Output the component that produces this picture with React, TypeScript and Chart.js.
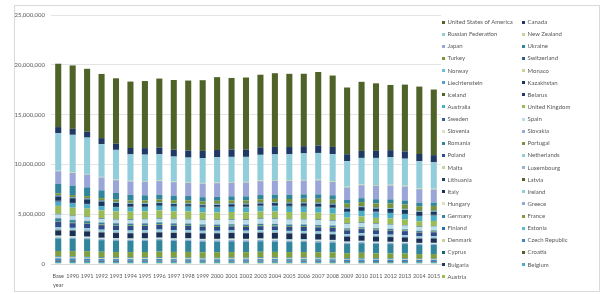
import React, { useEffect, useRef } from "react";
import { Chart, registerables } from "chart.js";

Chart.register(...registerables);

// Categories (Base year, 1990 ... 2015)
const categories: (string | string[])[] = [
  ["Base", "year"], "1990", "1991", "1992", "1993", "1994", "1995", "1996", "1997", "1998", "1999",
  "2000", "2001", "2002", "2003", "2004", "2005", "2006", "2007", "2008", "2009", "2010",
  "2011", "2012", "2013", "2014", "2015",
];

// Values in Mt CO2 eq (shown in kt on the axis)
const austria = [79, 79, 82, 75, 75, 76, 79, 82, 82, 81, 80, 80, 84, 86, 92, 91, 93, 90, 87, 87, 80, 85, 82, 80, 80, 76, 79];
const belgium = [146, 146, 150, 148, 146, 152, 153, 157, 150, 154, 147, 149, 148, 145, 148, 148, 143, 139, 133, 137, 124, 131, 121, 119, 119, 114, 117];
const bulgaria = [113, 104, 83, 76, 74, 70, 74, 72, 67, 63, 57, 58, 61, 59, 63, 62, 63, 63, 66, 64, 56, 59, 64, 60, 55, 58, 61];
const croatia = [31.3, 31.3, 25.8, 23.3, 23.3, 22.5, 22.9, 22.9, 24.0, 25.0, 25.7, 25.7, 26.7, 27.9, 29.3, 29.0, 29.7, 30.0, 31.2, 30.2, 28.5, 27.9, 27.9, 26.1, 24.7, 24.0, 24.5];
const cyprus = [5.7, 5.7, 6.2, 6.6, 6.8, 7.1, 7.3, 7.5, 7.6, 8.0, 8.4, 8.8, 8.8, 9.2, 9.6, 9.7, 9.7, 9.9, 10.3, 10.5, 10.1, 9.8, 9.5, 9.0, 8.0, 8.5, 8.5];
const czechRepublic = [197, 197, 181, 170, 164, 155, 155, 158, 155, 148, 139, 148, 150, 146, 148, 149, 147, 149, 149, 143, 134, 137, 134, 130, 125, 124, 125];
const denmark = [70, 70, 80, 75, 77, 80, 77, 90, 81, 77, 74, 70, 71, 70, 75, 69, 65, 72, 67, 64, 61, 63, 57, 52, 55, 51, 49];
const estonia = [40.4, 40.4, 38.5, 28.0, 22.0, 22.3, 20.0, 20.6, 20.3, 18.6, 17.3, 16.8, 17.2, 17.2, 19.2, 19.1, 18.4, 17.4, 21.2, 19.5, 15.8, 20.4, 20.6, 19.3, 21.8, 20.8, 18.0];
const finland = [71, 71, 69, 67, 69, 73, 71, 76, 73, 71, 71, 70, 75, 77, 85, 81, 70, 80, 79, 71, 67, 76, 68, 62, 63, 59, 56];
const france = [552, 550, 575, 561, 541, 538, 545, 557, 553, 569, 559, 556, 555, 552, 557, 557, 558, 548, 539, 532, 510, 516, 490, 494, 493, 461, 463];
const germany = [1262, 1251, 1205, 1161, 1153, 1130, 1124, 1148, 1109, 1103, 1073, 1067, 1078, 1060, 1057, 1041, 1004, 1012, 980, 992, 917, 960, 932, 945, 955, 905, 908];
const greece = [105, 105, 105, 106, 107, 110, 110, 114, 118, 124, 124, 127, 128, 128, 132, 131, 134, 129, 132, 128, 121, 117, 115, 110, 104, 101, 96];
const hungary = [115, 94, 86, 79, 78, 77, 77, 79, 77, 77, 77, 76, 77, 75, 78, 77, 77, 76, 75, 73, 66, 65, 64, 61, 57, 58, 61];
const ireland = [56, 56, 57, 57, 57, 58, 59, 61, 63, 65, 67, 69, 71, 69, 69, 69, 70, 70, 69, 67, 62, 61, 58, 59, 59, 59, 60];
const italy = [520, 520, 522, 520, 515, 510, 531, 525, 533, 546, 553, 556, 560, 563, 579, 582, 582, 574, 566, 551, 495, 507, 495, 474, 443, 422, 433];
const latvia = [26.2, 26.2, 24.7, 19.7, 15.9, 14.6, 13.1, 12.5, 12.0, 11.6, 10.7, 10.3, 10.8, 10.8, 11.0, 11.3, 11.4, 11.8, 12.1, 11.8, 11.0, 11.9, 11.4, 11.3, 11.2, 11.2, 11.3];
const lithuania = [48.1, 48.1, 49.0, 32.0, 25.0, 22.0, 21.6, 21.7, 21.5, 22.6, 19.3, 17.6, 19.0, 19.5, 19.9, 20.7, 22.0, 22.2, 24.1, 23.6, 20.1, 20.8, 21.3, 21.4, 20.3, 20.2, 20.3];
const luxembourg = [12.7, 12.7, 13.3, 13.2, 13.3, 12.9, 10.3, 10.5, 9.8, 8.8, 9.2, 9.8, 10.3, 10.9, 11.3, 12.7, 13.1, 12.9, 12.3, 12.2, 11.7, 12.2, 12.1, 11.8, 11.0, 10.8, 10.2];
const malta = [2.0, 2.0, 2.1, 2.2, 2.3, 2.3, 2.4, 2.4, 2.5, 2.5, 2.6, 2.6, 2.7, 2.7, 2.9, 2.9, 3.1, 3.0, 3.1, 3.1, 3.0, 3.0, 3.0, 3.2, 2.8, 2.8, 2.3];
const netherlands = [221, 221, 229, 227, 227, 229, 233, 240, 231, 234, 222, 219, 220, 216, 218, 221, 214, 209, 208, 209, 201, 210, 196, 192, 195, 187, 195];
const poland = [570, 467, 460, 450, 451, 453, 443, 457, 447, 418, 410, 392, 388, 378, 391, 394, 397, 411, 414, 405, 387, 409, 408, 401, 394, 381, 386];
const portugal = [60, 60, 63, 66, 65, 66, 71, 69, 71, 76, 82, 83, 83, 87, 82, 84, 86, 81, 79, 76, 73, 70, 70, 67, 65, 64, 69];
const romania = [282, 248, 196, 186, 180, 172, 178, 181, 167, 149, 131, 136, 139, 144, 149, 150, 145, 150, 150, 148, 124, 118, 124, 121, 111, 112, 114];
const slovakia = [73.4, 73.4, 66, 60, 56, 53, 54, 53, 53, 52, 50, 49, 51, 50, 50, 51, 51, 50, 48, 49, 44, 45, 45, 43, 42, 41, 41];
const slovenia = [20.4, 18.6, 17.0, 16.6, 16.8, 17.4, 18.1, 18.7, 19.2, 18.9, 18.4, 18.6, 19.3, 19.5, 19.3, 19.5, 19.9, 20.0, 20.4, 21.2, 19.3, 19.4, 19.4, 18.8, 18.1, 16.5, 16.7];
const spain = [288, 288, 296, 303, 293, 306, 318, 310, 330, 340, 365, 380, 381, 397, 404, 420, 436, 429, 438, 405, 365, 355, 355, 348, 322, 324, 336];
const sweden = [72, 71.9, 71.3, 71.0, 71.4, 74.0, 73.8, 76.6, 72.6, 72.8, 69.9, 68.6, 69.2, 70.0, 70.5, 69.4, 67.0, 66.5, 65.2, 63.1, 58.8, 64.5, 60.6, 57.7, 55.8, 54.0, 53.7];
const unitedKingdom = [797, 797, 805, 782, 760, 752, 745, 766, 740, 741, 712, 713, 717, 699, 703, 701, 693, 686, 676, 655, 594, 609, 567, 585, 571, 529, 507];
const australia = [420, 420, 420, 424, 428, 432, 442, 450, 464, 481, 490, 498, 509, 512, 516, 530, 534, 540, 546, 552, 554, 546, 546, 548, 540, 530, 533];
const belarus = [139, 139, 135, 117, 103, 92, 80, 78, 78, 77, 76, 75, 75, 75, 76, 80, 80, 84, 83, 87, 86, 89, 88, 91, 89, 89, 87];
const iceland = [3.6, 3.6, 3.4, 3.5, 3.6, 3.6, 3.6, 3.7, 3.9, 3.9, 4.1, 4.2, 4.1, 4.1, 4.1, 4.2, 4.1, 4.4, 4.6, 5.2, 5.0, 4.8, 4.6, 4.6, 4.7, 4.6, 4.7];
const kazakhstan = [386, 386, 375, 355, 315, 255, 220, 195, 185, 170, 160, 185, 190, 200, 215, 230, 240, 250, 265, 275, 255, 285, 290, 300, 315, 320, 310];
const liechtenstein = [0.23, 0.23, 0.23, 0.24, 0.24, 0.24, 0.25, 0.25, 0.25, 0.26, 0.26, 0.25, 0.26, 0.26, 0.26, 0.27, 0.27, 0.26, 0.24, 0.24, 0.23, 0.23, 0.22, 0.23, 0.23, 0.2, 0.2];
const monaco = [0.11, 0.11, 0.11, 0.12, 0.12, 0.12, 0.12, 0.12, 0.12, 0.12, 0.12, 0.12, 0.12, 0.11, 0.11, 0.11, 0.1, 0.1, 0.1, 0.1, 0.1, 0.09, 0.09, 0.09, 0.09, 0.08, 0.09];
const norway = [51.9, 51.9, 50.5, 48.9, 50.6, 52.3, 52.5, 54.6, 54.8, 55.0, 55.6, 54.8, 55.8, 54.2, 54.5, 55.1, 54.2, 53.9, 56.0, 54.5, 51.8, 54.0, 53.4, 52.8, 53.2, 53.4, 53.9];
const switzerland = [53.7, 53.7, 53.9, 55.0, 53.0, 52.1, 52.8, 53.2, 52.6, 53.7, 53.8, 53.0, 54.1, 52.6, 53.6, 54.2, 54.7, 54.1, 52.1, 53.6, 52.6, 54.2, 50.6, 51.7, 52.5, 48.7, 48.1];
const turkey = [214, 214, 221, 229, 236, 232, 250, 270, 282, 285, 284, 298, 280, 290, 305, 313, 337, 358, 389, 385, 392, 398, 425, 447, 439, 458, 475];
const ukraine = [945, 945, 880, 780, 660, 570, 510, 460, 440, 420, 410, 395, 405, 410, 425, 420, 420, 435, 440, 435, 375, 395, 410, 410, 400, 355, 320];
const japan = [1261, 1270, 1279, 1289, 1280, 1345, 1363, 1376, 1371, 1331, 1360, 1377, 1356, 1384, 1391, 1389, 1395, 1373, 1410, 1336, 1253, 1304, 1355, 1390, 1409, 1364, 1325];
const newZealand = [65, 65, 66, 66, 66, 67, 68, 70, 72, 71, 72, 74, 76, 76, 78, 77, 80, 80, 79, 79, 77, 78, 78, 80, 79, 80, 80];
const russianFederation = [3768, 3768, 3650, 3280, 2980, 2650, 2650, 2620, 2490, 2460, 2500, 2520, 2530, 2510, 2570, 2580, 2590, 2660, 2670, 2710, 2570, 2660, 2720, 2760, 2710, 2720, 2650];
const canada = [602, 602, 594, 611, 614, 638, 656, 675, 692, 699, 713, 738, 727, 730, 749, 751, 732, 724, 750, 730, 689, 701, 707, 715, 729, 727, 722];
const unitedStates = [6363, 6363, 6314, 6442, 6571, 6672, 6735, 6925, 6998, 7035, 7101, 7312, 7197, 7237, 7293, 7399, 7350, 7272, 7378, 7168, 6700, 6939, 6782, 6545, 6709, 6768, 6587];

// Stack order: bottom to top
const seriesNames = [
  "Austria", "Belgium", "Bulgaria", "Croatia", "Cyprus", "Czech Republic", "Denmark", "Estonia",
  "Finland", "France", "Germany", "Greece", "Hungary", "Ireland", "Italy", "Latvia", "Lithuania",
  "Luxembourg", "Malta", "Netherlands", "Poland", "Portugal", "Romania", "Slovakia", "Slovenia",
  "Spain", "Sweden", "United Kingdom", "Australia", "Belarus", "Iceland", "Kazakhstan",
  "Liechtenstein", "Monaco", "Norway", "Switzerland", "Turkey", "Ukraine", "Japan", "New Zealand",
  "Russian Federation", "Canada", "United States of America",
];
const seriesValues = [
  austria, belgium, bulgaria, croatia, cyprus, czechRepublic, denmark, estonia,
  finland, france, germany, greece, hungary, ireland, italy, latvia, lithuania,
  luxembourg, malta, netherlands, poland, portugal, romania, slovakia, slovenia,
  spain, sweden, unitedKingdom, australia, belarus, iceland, kazakhstan,
  liechtenstein, monaco, norway, switzerland, turkey, ukraine, japan, newZealand,
  russianFederation, canada, unitedStates,
];
const seriesColors = [
  "#9bbb59", "#4bacc6", "#1f3864", "#4f6228", "#215f7a", "#3f86c4", "#c3d69b", "#5dbbd6",
  "#2e6eb0", "#7f9f3f", "#31859c", "#8ea9db", "#d7e4bd", "#92cddc", "#1b2f55", "#4f6228", "#254061",
  "#95b3d7", "#c3d69b", "#92cddc", "#2f4d8a", "#77933c", "#31859c", "#9aa8dc", "#d7e4bd",
  "#b7dee8", "#366092", "#9bbb59", "#4bacc6", "#1f3864", "#4f6228", "#17375e",
  "#5b9bd5", "#c3d69b", "#6cc0dc", "#2e5f8a", "#77933c", "#31859c", "#9aa6d8", "#c3d69b",
  "#92cddc", "#1f3864", "#4f6228",
];

const yTicks = [0, 5000000, 10000000, 15000000, 20000000, 25000000];

const FONT = "Lato, 'Open Sans', sans-serif";

export default function App() {
  const ref = useRef<HTMLCanvasElement>(null);

  useEffect(() => {
    const chart = new Chart(ref.current as HTMLCanvasElement, {
      type: "bar",
      data: {
        labels: categories,
        datasets: seriesNames.map((name, i) => ({
          label: name,
          data: seriesValues[i].map((v) => v * 1000),
          backgroundColor: seriesColors[i],
          borderWidth: 0,
          barPercentage: 0.42,
          categoryPercentage: 1,
        })),
      },
      options: {
        responsive: false,
        animation: false,
        layout: { padding: { left: 0, right: 159, top: 15, bottom: 0 } },
        plugins: { legend: { display: false }, tooltip: { enabled: false } },
        scales: {
          x: {
            stacked: true,
            grid: { display: false, drawTicks: false },
            border: { color: "#d9d9d9" },
            ticks: {
              font: { size: 5.5, family: FONT, lineHeight: 1.55 },
              color: "#595959",
              padding: 8,
              maxRotation: 0,
              autoSkip: false,
            },
            afterFit: (s: any) => {
              s.height = 30;
            },
          },
          y: {
            stacked: true,
            min: 0,
            max: yTicks[yTicks.length - 1],
            afterBuildTicks: (s: any) => {
              s.ticks = yTicks.map((v) => ({ value: v }));
            },
            ticks: {
              font: { size: 6, family: FONT },
              color: "#595959",
              padding: 6,
              callback: (v: any) => Number(v).toLocaleString("en-US"),
            },
            grid: { color: "#e4e4e4", drawTicks: false },
            border: { display: false },
            afterFit: (s: any) => {
              s.width = 51;
            },
          },
        },
      },
    });
    return () => chart.destroy();
  }, []);

  const legendOrder = seriesNames.map((_, i) => i).reverse();

  return (
    <div style={{ position: "fixed", left: 0, top: 0, width: 600, height: 294, background: "#fff", fontFamily: FONT }}>
      <div style={{ position: "absolute", left: 14, top: 5, width: 586, height: 287, border: "1px solid #d9d9d9", boxSizing: "border-box" }} />
      <canvas ref={ref} width={600} height={294} style={{ position: "absolute", left: 0, top: 0, width: 600, height: 294 }} />
      {legendOrder.map((idx, k) => {
        const row = Math.floor(k / 2);
        const col = k % 2;
        return (
          <div
            key={idx}
            style={{
              position: "absolute",
              left: col ? 521.5 : 441.5,
              top: 22 + row * 12.13 - 4,
              height: 8,
              display: "flex",
              alignItems: "center",
              fontSize: 6,
              lineHeight: "8px",
              color: "#595959",
              whiteSpace: "nowrap",
            }}
          >
            <span style={{ display: "inline-block", width: 3, height: 3, background: seriesColors[idx], marginRight: 3 }} />
            {seriesNames[idx]}
          </div>
        );
      })}
    </div>
  );
}
